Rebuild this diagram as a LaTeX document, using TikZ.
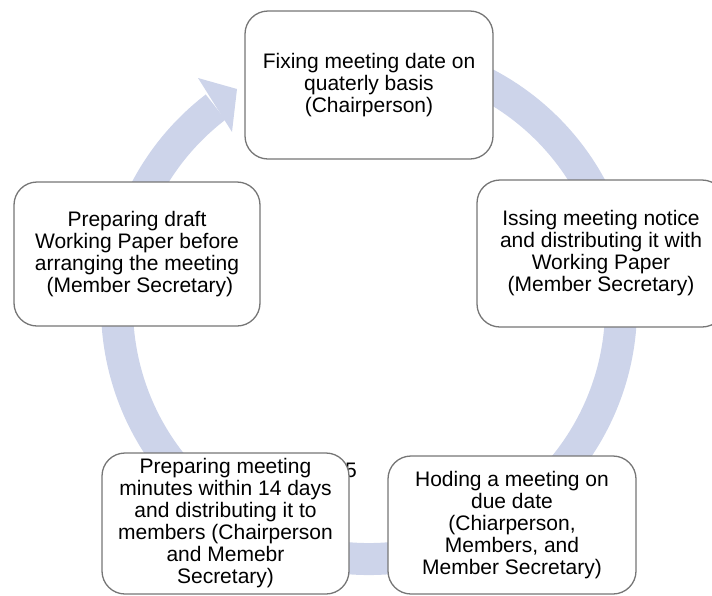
\documentclass[tikz,border=0pt]{standalone}
\usepackage{fontspec}
\setmainfont{Liberation Sans}
\definecolor{bandcol}{RGB}{205,212,234}
\definecolor{boxgray}{RGB}{118,118,118}
\begin{document}
\begin{tikzpicture}[x=1pt,y=-1pt,
  band/.style={draw=bandcol, line width=32pt},
  stage/.style={draw=boxgray, line width=1.3pt, fill=white, rounded corners=23pt,
    align=center, font=\fontsize{21}{22}\selectfont, inner sep=0pt},
  lbl/.style={font=\fontsize{21}{22}\selectfont, inner sep=0pt}]
\useasboundingbox (0,0) rectangle (712,595);
\coordinate (c) at (369,307);
% circular band with arrowhead
\draw[band] (c) ++(-100:252) arc[start angle=-100, end angle=232.5, radius=252];
\fill[bandcol] (198,78) -- (237,89) -- (232,132) -- cycle;
% partially hidden number
\node[lbl, anchor=base east] (num) at (357,477) {15};
% boxes
\node[stage, minimum width=248pt, minimum height=148pt] (top) at (369,85)
  {Fixing meeting date on\\quaterly basis\\(Chairperson)};
\node[stage, minimum width=248pt, minimum height=147pt] (right) at (601,253.5)
  {Issing meeting notice\\and distributing it with\\Working Paper\\(Member Secretary)};
\node[stage, minimum width=248pt, minimum height=138pt] (botright) at (512,525)
  {Hoding a meeting on\\due date\\(Chiarperson,\\Members, and\\Member Secretary)};
\node[stage, minimum width=247pt, minimum height=141pt] (botleft) at (225.5,523.5)
  {Preparing meeting\\minutes within 14 days\\and distributing it to\\members (Chairperson\\and Memebr\\Secretary)};
\node[stage, minimum width=246pt, minimum height=144pt] (left) at (137,254)
  {Preparing draft\\Working Paper before\\arranging the meeting\\\mbox{}\ (Member Secretary)};
\end{tikzpicture}
\end{document}
